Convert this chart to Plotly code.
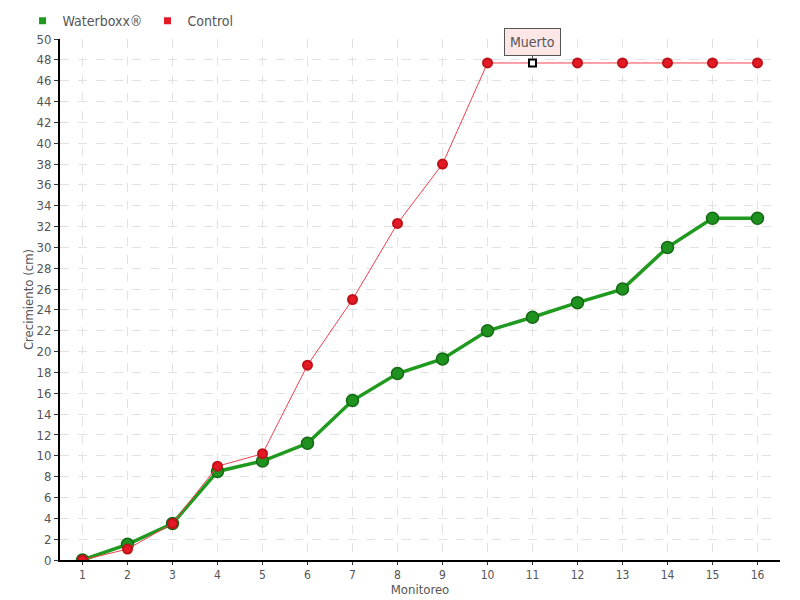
import plotly.graph_objects as go

monitoreo = list(range(1, 17))
waterboxx = [0, 1.5, 3.5, 8.5, 9.5, 11.2, 15.3, 17.9, 19.3, 22.0, 23.3, 24.7, 26.0, 30.0, 32.8, 32.8]
control = [0, 1.05, 3.5, 9.0, 10.2, 18.7, 25.0, 32.3, 38.0, 47.7, 47.7, 47.7, 47.7, 47.7, 47.7, 47.7]
y_ticks = list(range(0, 51, 2))
muerto_index = 10  # monitoreo 11

FONT = "Liberation Sans Narrow, DejaVu Sans Condensed, Roboto, sans-serif"
TXT = "#555555"
GREEN = "#1f9a1f"
RED = "#e31a26"

ctrl_symbols = ["circle"] * len(control)
ctrl_colors = [RED] * len(control)
ctrl_line_colors = ["#c01018"] * len(control)
ctrl_sizes = [9] * len(control)
ctrl_symbols[muerto_index] = "square"
ctrl_colors[muerto_index] = "white"
ctrl_line_colors[muerto_index] = "black"
ctrl_sizes[muerto_index] = 7

fig = go.Figure()
fig.add_trace(go.Scatter(
    x=monitoreo, y=waterboxx, name="Waterboxx®", mode="lines+markers", showlegend=False,
    line=dict(color=GREEN, width=3.5),
    marker=dict(size=12, color="#1f911f", opacity=1, line=dict(color="#146a14", width=1.5)),
))
fig.add_trace(go.Scatter(
    x=monitoreo, y=control, name="Control", mode="lines+markers", showlegend=False,
    line=dict(color="#f2404c", width=1),
    marker=dict(size=ctrl_sizes, color=ctrl_colors, symbol=ctrl_symbols, opacity=1,
                line=dict(color=ctrl_line_colors, width=2)),
))
# legend entries: small square swatches only
for name, col in [("Waterboxx®", GREEN), ("Control", RED)]:
    fig.add_trace(go.Scatter(
        x=[None], y=[None], name=name, mode="markers", showlegend=True,
        marker=dict(symbol="square", size=7, color=col),
    ))

fig.add_annotation(
    x=monitoreo[muerto_index], y=control[muerto_index], text="Muerto",
    showarrow=True, arrowhead=0, arrowwidth=1, arrowcolor="#555555",
    ax=0, ay=-21, standoff=4,
    bgcolor="#fde6e6", bordercolor="#555555", borderwidth=1, borderpad=5,
    font=dict(family=FONT, size=14, color=TXT),
)

grid = dict(showgrid=True, gridcolor="#e2e2e2", griddash="dash", gridwidth=1)
fig.update_layout(
    width=792, height=592,
    margin=dict(l=52, r=20, t=31, b=40, autoexpand=False),
    paper_bgcolor="white", plot_bgcolor="white",
    font=dict(family=FONT, size=13, color=TXT),
    showlegend=True,
    legend=dict(orientation="h", x=-0.052, y=1.0345, xanchor="left", yanchor="middle",
                font=dict(family=FONT, size=14, color=TXT), itemsizing="trace",
                itemwidth=30, tracegroupgap=0, bgcolor="rgba(0,0,0,0)"),
    xaxis=dict(range=[0.5, 16.5], tickmode="array", tickvals=monitoreo,
               ticktext=[str(m) for m in monitoreo], automargin=False,
               showline=True, linecolor="black", linewidth=2, ticks="outside",
               ticklen=3, tickcolor="#333333", zeroline=False,
               tickfont=dict(size=12),
               title=dict(text="Monitoreo", standoff=0, font=dict(size=13, color=TXT)),
               **grid),
    yaxis=dict(range=[0, 50], tickmode="array", tickvals=y_ticks, automargin=False,
               showline=True, linecolor="black", linewidth=2, ticks="outside",
               ticklen=4, tickcolor="#333333", zeroline=False,
               title=dict(text="Crecimiento (cm)", standoff=0, font=dict(size=13, color=TXT)),
               **grid),
)

fig.write_html("out.html")
